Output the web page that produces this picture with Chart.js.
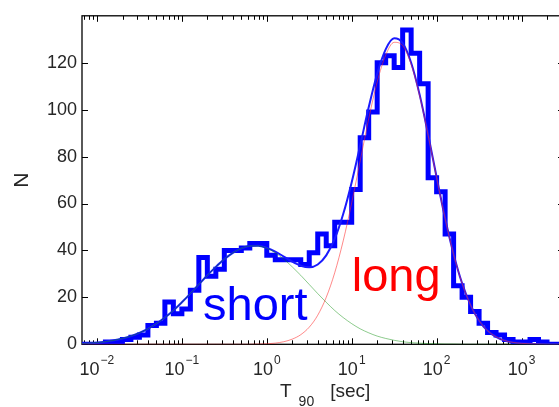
<!DOCTYPE html>
<html><head><meta charset="utf-8">
<script src="https://cdn.jsdelivr.net/npm/chart.js@4/dist/chart.umd.min.js"></script>
<style>
html,body{margin:0;padding:0;background:#fff;overflow:hidden;}
#wrap{width:559px;height:407px;overflow:hidden;position:relative;}
canvas{display:block;}
</style></head>
<body><div id="wrap"><canvas id="c" width="572" height="407"></canvas></div>
<script>
// Histogram bin edges (log10 of T90 in seconds) and counts per bin
const binEdgesLog10 = [-2.2,-2.1,-2.0,-1.9,-1.8,-1.7,-1.6,-1.5,-1.4,-1.3,-1.2,-1.1,-1.0,-0.9,-0.8,-0.7,-0.6,-0.5,-0.4,-0.3,-0.2,-0.1,0.0,0.1,0.2,0.3,0.4,0.5,0.6,0.7,0.8,0.9,1.0,1.1,1.2,1.3,1.4,1.5,1.6,1.7,1.8,1.9,2.0,2.1,2.2,2.3,2.4,2.5,2.6,2.7,2.8,2.9,3.0,3.1,3.2,3.3,3.4,3.5];
const counts = [0,0,0,1,1,2,3,4,8,9, 18,13,15,23,37,29,32,40,40,41, 43,43,38,36,36,36,34,39,47,42, 52,52,66,88,99,120,123,118,134,124, 111,71,65,47,25,20,14,9,5,4, 2,1,1,2,1,0,0];

// Fitted curves, sampled at log10(T90)
const curveLog10 = [-2.3,-2.2,-2.1,-2.0,-1.9,-1.8,-1.7,-1.6,-1.5,-1.4,-1.3,-1.2,-1.1,-1.0,-0.9,-0.8,-0.7,-0.6,-0.5,-0.4,-0.3,-0.2,-0.1,0.0,0.1,0.2,0.3,0.4,0.5,0.6,0.7,0.8,0.9,1.0,1.1,1.2,1.3,1.4,1.5,1.6,1.7,1.8,1.9,2.0,2.1,2.2,2.3,2.4,2.5,2.6,2.7,2.8,2.9,3.0,3.1,3.2,3.3,3.4,3.5];
const fitShort = [0.2,0.3,0.5,0.7,1.1,1.7,2.5,3.5,4.9,6.6,8.8,11.4,14.4,17.9,21.6,25.5,29.4,33.0,36.3,39.0,40.9,41.9,41.9,40.9,39.0,36.3,33.0,29.4,25.5,21.6,17.9,14.4,11.4,8.8,6.6,4.9,3.5,2.5,1.7,1.1,0.7,0.5,0.3,0.2,0.1,0.1,0,0,0,0,0,0,0,0,0,0,0,0,0];
const fitLong = [0,0,0,0,0,0,0,0,0,0,0,0,0,0,0,0,0,0,0,0,0,0,0.1,0.2,0.5,1.1,2.2,4.1,7.3,12.4,20.0,30.5,44.1,60.3,78.2,96.1,111.8,123.2,128.7,127.3,119.3,105.9,89.1,71.0,53.6,38.3,26.0,16.7,10.1,5.8,3.2,1.6,0.8,0.4,0.2,0.1,0,0,0];
const fitTotal = [0.2,0.3,0.5,0.7,1.1,1.7,2.5,3.5,4.9,6.6,8.8,11.4,14.4,17.9,21.6,25.5,29.4,33.0,36.3,39.0,40.9,41.9,42.0,41.1,39.5,37.4,35.2,33.5,32.8,34.0,37.9,44.9,55.5,69.1,84.8,101.0,115.3,125.7,130.4,128.4,120.0,106.4,89.4,71.2,53.7,38.4,26.0,16.7,10.1,5.8,3.2,1.6,0.8,0.4,0.2,0.1,0,0,0];

// Axis ticks
const yTicks = [0,20,40,60,80,100,120];
const xTickExponents = [-2,-1,0,1,2,3];

// Text labels on the plot
const groupNames = ['short','long'];
const groupAnchorLog10 = [-0.75, 1.0];
const groupAnchorN = [10.5, 22.6];
const groupColors = ['#0000ff','#ff0000'];

const FONT = "'Liberation Sans', Arial, Helvetica, sans-serif";

// build step outline of histogram
const histPts = [];
for (let i = 0; i < counts.length; i++) {
  histPts.push({x: Math.pow(10, binEdgesLog10[i]), y: counts[i]});
  histPts.push({x: Math.pow(10, binEdgesLog10[i+1]), y: counts[i]});
}
const curve = arr => curveLog10.map((l, i) => ({x: Math.pow(10, l), y: arr[i]}));

const deco = {
  id: 'deco',
  beforeDatasetsDraw(chart) {
    const {ctx, chartArea: a, scales: {x, y}} = chart;
    ctx.save();
    ctx.strokeStyle = '#000';
    ctx.lineWidth = 1.3;
    ctx.strokeRect(a.left, a.top, a.right - a.left, a.bottom - a.top);
    ctx.lineWidth = 1;
    ctx.beginPath();
    for (let k = -3; k <= 3; k++) {
      for (let m = 1; m <= 9; m++) {
        const v = m * Math.pow(10, k);
        if (v < x.min || v > x.max) continue;
        const px = Math.round(x.getPixelForValue(v)) + 0.5;
        const len = m === 1 ? 6 : 4;
        ctx.moveTo(px, a.bottom); ctx.lineTo(px, a.bottom - len);
        ctx.moveTo(px, a.top); ctx.lineTo(px, a.top + len);
      }
    }
    for (const v of yTicks) {
      const py = Math.round(y.getPixelForValue(v)) + 0.5;
      ctx.moveTo(a.left, py); ctx.lineTo(a.left + 6, py);
      ctx.moveTo(a.right, py); ctx.lineTo(a.right - 6, py);
    }
    ctx.stroke();
    ctx.restore();
  },
  afterDraw(chart) {
    const {ctx, chartArea: a, scales: {x, y}} = chart;
    ctx.save();
    // group labels
    ctx.textAlign = 'left';
    ctx.textBaseline = 'alphabetic';
    ctx.font = '47px ' + FONT;
    groupNames.forEach((t, i) => {
      ctx.fillStyle = groupColors[i];
      ctx.fillText(t, x.getPixelForValue(Math.pow(10, groupAnchorLog10[i])), y.getPixelForValue(groupAnchorN[i]));
    });
    // x tick labels 10^k
    ctx.fillStyle = '#262626';
    const baseFont = '18px ' + FONT, supFont = '12px ' + FONT;
    const baseY = a.bottom + 31;
    for (const k of xTickExponents) {
      const px = x.getPixelForValue(Math.pow(10, k));
      const sup = k < 0 ? '\u2212' + Math.abs(k) : String(k);
      ctx.font = baseFont; const wb = ctx.measureText('10').width;
      ctx.font = supFont; const ws = ctx.measureText(sup).width;
      const start = px - (wb + ws + 1) / 2;
      ctx.font = baseFont; ctx.fillText('10', start, baseY);
      ctx.font = supFont; ctx.fillText(sup, start + wb + 1, baseY - 11);
    }
    // x title T_90 [sec]
    const cx = (a.left + a.right) / 2;
    const tY = a.bottom + 53;
    let sx = cx - 43;
    ctx.font = '19px ' + FONT; ctx.fillText('T', sx, tY);
    sx += ctx.measureText('T').width + 7;
    ctx.font = '14px ' + FONT; ctx.fillText('90', sx, tY + 9);
    sx += ctx.measureText('90').width + 16;
    ctx.font = '19px ' + FONT; ctx.fillText('[sec]', sx, tY);
    ctx.restore();
  }
};

new Chart(document.getElementById('c'), {
  type: 'line',
  data: {
    datasets: [
      {label: 'histogram', data: histPts, borderColor: '#0000ff', borderWidth: 5, pointRadius: 0, tension: 0, borderJoinStyle: 'miter', borderCapStyle: 'butt', order: 4},
      {label: 'fit', data: curve(fitTotal), borderColor: '#1a1aff', borderWidth: 2, pointRadius: 0, cubicInterpolationMode: 'monotone', order: 3},
      {label: 'short', data: curve(fitShort), borderColor: 'rgba(0,140,0,0.45)', borderWidth: 1, pointRadius: 0, cubicInterpolationMode: 'monotone', order: 2},
      {label: 'long', data: curve(fitLong), borderColor: 'rgba(255,40,40,0.55)', borderWidth: 1, pointRadius: 0, cubicInterpolationMode: 'monotone', order: 1}
    ]
  },
  options: {
    responsive: false,
    animation: false,
    events: [],
    layout: {padding: {top: 8, right: 8, left: 0, bottom: 0}},
    plugins: {legend: {display: false}, tooltip: {enabled: false}},
    scales: {
      x: {
        type: 'logarithmic',
        min: Math.pow(10, -2.176), max: Math.pow(10, 3.5),
        ticks: {display: false},
        grid: {display: false, drawTicks: false},
        border: {display: false},
        afterFit: s => { s.height = 62.7; }
      },
      y: {
        min: 0, max: 140,
        afterBuildTicks: s => { s.ticks = yTicks.map(v => ({value: v})); },
        ticks: {font: {family: FONT, size: 18}, color: '#262626', padding: 5},
        grid: {display: false, drawTicks: false},
        border: {display: false},
        title: {display: true, text: 'N', font: {family: FONT, size: 21}, color: '#262626', padding: {top: 10, bottom: 0}},
        afterFit: s => { s.width = 82; }
      }
    }
  },
  plugins: [deco]
});
</script>
</body></html>
